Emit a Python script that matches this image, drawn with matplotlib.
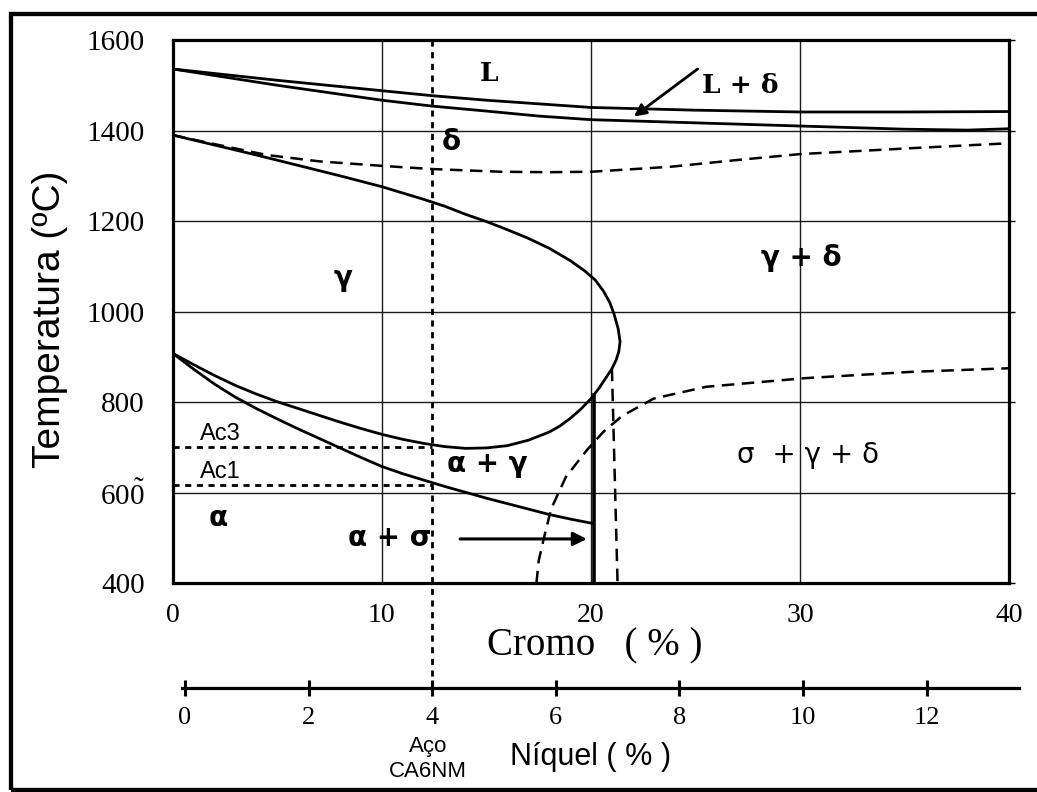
import matplotlib
matplotlib.use("Agg")
import matplotlib.pyplot as plt
from matplotlib.patches import Rectangle

# --- data (Cr %, temperature degC) ---
liq_cr = [0, 5, 10, 12.4, 15, 17.5, 20, 25, 30, 35, 40]
liq_t = [1536, 1511, 1488, 1477, 1467, 1459, 1451, 1445, 1441, 1441, 1442]

sol_cr = [0, 5, 10, 12.4, 15, 17.5, 20, 25, 30, 35, 38, 40]
sol_t = [1536, 1500, 1467, 1454, 1443, 1432, 1424, 1417, 1410, 1403, 1401, 1404]

delta_cr = [0, 2, 4.5, 7, 10, 12.4, 15.7, 18, 20, 23.8, 27, 30, 35.3, 40]
delta_t = [1390, 1370, 1346, 1332, 1322, 1315, 1309, 1308, 1309, 1320, 1335, 1348, 1361, 1372]

# gamma loop, upper branch -> nose -> lower branch
loop_cr = [0, 2, 4, 6, 8, 10, 12, 13, 14, 15, 16, 17, 18, 19, 19.7, 20.2, 20.6, 20.9,
           21.1, 21.3, 21.39,
           21.33, 21.2, 21.0, 20.7, 20.4, 20.0, 19.5, 19.0, 18.5, 18.0, 17.0, 16.0, 15.0,
           14.0, 13.0, 12.0, 11, 10, 9, 8, 7, 6, 5, 4, 3, 2, 1, 0]
loop_t = [1390, 1368, 1346, 1323, 1300, 1276, 1248, 1233, 1215, 1199, 1181, 1162, 1140, 1113,
          1090, 1070, 1045, 1020, 995, 962, 934,
          912, 893, 874, 853, 832, 808, 784, 764, 747, 734, 716, 704, 699,
          698, 702, 709, 718, 729, 742, 756, 771, 786, 801, 818, 837, 859, 883, 908]

alpha_cr = [0, 1, 2, 3, 4, 5, 6, 7, 8, 9, 10, 11, 12, 13, 14, 15, 16, 17, 18, 19, 20, 20.15]
alpha_t = [908, 873, 840, 811, 786, 763, 741, 720, 699, 678, 658, 642, 628, 614, 601, 588,
           576, 564, 552, 542, 533, 531]

sigma_cr = [17.39, 17.5, 17.8, 18.1, 18.8, 19.8, 20.6, 21.5, 23.0, 25.5, 30.2, 35.3, 40]
sigma_t = [400, 450, 510, 565, 635, 694, 735, 770, 808, 834, 853, 867, 875]

solid_vert_cr = [20.15, 20.15]
solid_vert_t = [400, 815]
dash_vert_cr = [21.0, 21.27]
dash_vert_t = [874, 400]

ca6nm_cr = 12.4
ac3_t = 701
ac1_t = 618

cr_ticks = [0, 10, 20, 30, 40]
t_ticks = [400, 600, 800, 1000, 1200, 1400, 1600]
t_labels = ["400", r"60$\tilde{\mathrm{0}}$", "800", "1000", "1200", "1400", "1600"]
ni_ticks = [0, 2, 4, 6, 8, 10, 12]

W, H = 1037, 792
fig = plt.figure(figsize=(W / 100, H / 100), dpi=100)
plt.rcParams["font.family"] = ["Liberation Serif", "DejaVu Serif"]
plt.rcParams["mathtext.fontset"] = "custom"
plt.rcParams["mathtext.rm"] = "Liberation Serif"
plt.rcParams["mathtext.it"] = "Liberation Serif:italic"
plt.rcParams["mathtext.bf"] = "Liberation Serif:bold"

ax = fig.add_axes([172.7 / W, 1 - 583.3 / H, (1009.3 - 172.7) / W, (583.3 - 40) / H])
ax.set_xlim(0, 40)
ax.set_ylim(400, 1600)
ax.set_xticks(cr_ticks)
ax.set_yticks(t_ticks)
ax.set_yticklabels(t_labels)
ax.grid(True, color="#1a1a1a", lw=1.0)
ax.tick_params(axis="x", length=0, pad=14, labelsize=20)
ax.tick_params(axis="y", left=False, right=True, direction="out", length=4.5, width=1.0,
               pad=15.5, labelsize=21)
for sp in ax.spines.values():
    sp.set_linewidth(2.3)

solid = dict(color="k", lw=2.0, solid_capstyle="butt", solid_joinstyle="round")
dashed = dict(color="k", lw=1.8, ls=(0, (5, 3)))
dotted = dict(color="k", lw=2.0, ls=(0, (2.2, 2.0)))

ax.plot(liq_cr, liq_t, **solid)
ax.plot(sol_cr, sol_t, **solid)
ax.plot(delta_cr, delta_t, **dashed)
ax.plot(loop_cr, loop_t, **solid)
ax.plot(alpha_cr, alpha_t, **solid)
ax.plot(sigma_cr, sigma_t, **dashed)
ax.plot(solid_vert_cr, solid_vert_t, color="k", lw=2.6)
ax.plot(dash_vert_cr, dash_vert_t, **dashed)
ax.plot([0, ca6nm_cr], [ac3_t, ac3_t], **dotted)
ax.plot([0, ca6nm_cr], [ac1_t, ac1_t], **dotted)
ax.plot([ca6nm_cr, ca6nm_cr], [1600, 170], clip_on=False, **dotted)

# arrows
ax.annotate("", xy=(22.05, 1431), xytext=(25.1, 1536),
            arrowprops=dict(arrowstyle="-|>", color="k", lw=2.0, mutation_scale=18, shrinkA=0, shrinkB=0))
ax.annotate("", xy=(19.8, 498), xytext=(13.74, 498),
            arrowprops=dict(arrowstyle="-|>", color="k", lw=2.2, mutation_scale=20, shrinkA=0, shrinkB=0))

# region labels
serif_b = dict(family=["DejaVu Serif"], weight="bold", fontsize=19)
sans_b = dict(family=["DejaVu Sans"], weight="bold", fontsize=20)
ax.text(15.13, 1510, "L", ha="center", va="baseline", **serif_b)
ax.text(27.13, 1484, "L + δ", ha="center", va="baseline", **serif_b)
ax.text(13.34, 1357, "δ", ha="center", va="baseline", **sans_b)
ax.text(8.16, 1074, "γ", ha="center", va="center", **sans_b)
ax.text(30.07, 1100, "γ + δ", ha="center", va="baseline", **sans_b)
ax.text(15.03, 645, "α + γ", ha="center", va="baseline", **sans_b)
ax.text(2.19, 526, "α", ha="center", va="baseline", **sans_b)
ax.text(10.39, 482, "α + σ", ha="center", va="baseline", **sans_b)
ax.text(30.38, 666, "σ  + γ + δ", ha="center", va="baseline",
        family=["DejaVu Sans"], fontsize=20)
ax.text(1.3, 716, "Ac3", ha="left", va="baseline", family=["Liberation Sans"], fontsize=17)
ax.text(1.3, 633, "Ac1", ha="left", va="baseline", family=["Liberation Sans"], fontsize=17)

# nickel axis
nax = fig.add_axes([182 / W, 1 - 688.3 / H, 837 / W, 0.02])
nax.set_xlim(-3 / 61.8, 834 / 61.8)
nax.set_facecolor("none")
for name in ["top", "left", "right"]:
    nax.spines[name].set_visible(False)
nax.spines["bottom"].set_linewidth(2.3)
nax.set_yticks([])
nax.set_xticks(ni_ticks)
nax.tick_params(axis="x", direction="inout", length=11, width=2.2, pad=8, labelsize=19)

fig.text(595 / W, 1 - 646 / H, "Cromo   ( % )", ha="center", va="center", fontsize=28)
fig.text(590.7 / W, 1 - 756.7 / H, "Níquel ( % )", ha="center", va="center",
         family=["Liberation Sans"], fontsize=22)
fig.text(428 / W, 1 - 759 / H, "Aço\nCA6NM", ha="center", va="center",
         family=["Liberation Sans"], fontsize=16, linespacing=1.2)
fig.text(50 / W, 1 - 319 / H, "Temperatura (ºC)", ha="center", va="center", rotation=90,
         family=["Liberation Sans"], fontsize=28)

# outer frame (right edge falls outside the picture)
fig.add_artist(Rectangle((10.5 / W, 1 - 790 / H), 1.05, (790 - 13.7) / H,
                         transform=fig.transFigure, fill=False, lw=3.1, color="k"))

fig.savefig("out.png", dpi=100)
